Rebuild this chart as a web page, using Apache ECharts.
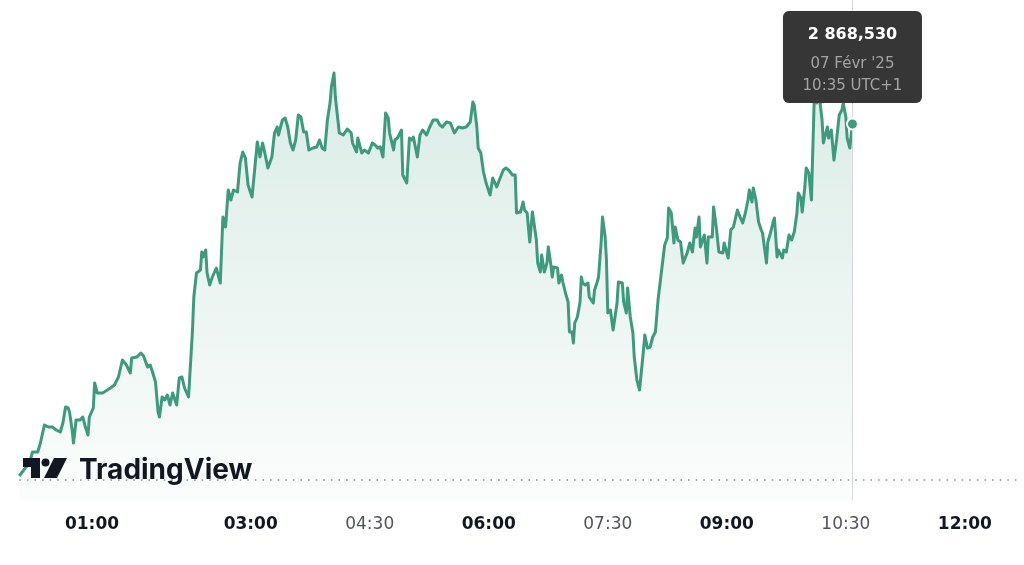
<!DOCTYPE html>
<html><head><meta charset="utf-8">
<script src="https://cdn.jsdelivr.net/npm/echarts@6/dist/echarts.min.js"></script>
<style>html,body{margin:0;padding:0;background:#fff}#c{width:1024px;height:565px}</style>
</head><body><div id="c"></div>
<script>
// Minutes since midnight (UTC+1), 07 Feb 2025
const minutes = [5,13,15,19,21,24,27,30,31,33,36,38,40,42,43,45,46,48,49,51,53,55,57,58,61,62,64,68,74,77,80,83,86,89,90,94,97,99,102,104,106,108,110,111,113,115,117,119,121,124,126,128,130,133,134,136,137,139,142,143,144,146,147,149,151,154,157,159,161,163,165,167,170,172,174,176,178,181,185,187,189,191,193,196,198,200,201,204,206,208,210,212,214,216,218,220,222,224,227,230,232,234,236,238,240,241,243,244,247,250,253,256,257,260,261,264,266,269,272,274,276,278,280,282,284,285,288,289,291,294,295,298,300,302,303,306,308,310,313,315,318,321,323,325,328,331,334,337,340,343,346,348,349,351,352,354,356,358,361,363,366,368,371,373,375,378,380,381,384,386,387,389,391,393,394,396,397,399,400,402,404,405,407,408,409,412,413,415,416,418,420,421,423,424,425,427,429,430,431,433,435,436,439,440,442,443,445,446,448,449,450,452,454,457,458,461,462,464,465,467,469,470,472,474,477,478,480,482,484,486,488,490,491,493,495,496,498,500,501,503,505,507,510,512,514,516,517,519,520,523,525,526,529,530,532,534,537,538,541,543,545,548,550,552,554,556,557,559,560,562,564,566,567,570,571,573,575,576,578,579,582,583,585,587,589,591,593,594,596,597,599,600,602,604,605,606,607,608,610,612,613,616,617,619,621,623,625,627,628,630,631,633,635];
const prices = [2854.45,2855.01,2855.41,2855.41,2855.77,2856.49,2856.41,2856.41,2856.49,2856.29,2856.21,2856.57,2857.21,2857.17,2857.01,2856.29,2855.77,2856.69,2856.77,2856.69,2856.81,2856.41,2856.09,2856.81,2857.17,2858.17,2857.77,2857.77,2857.97,2858.09,2858.41,2859.09,2858.89,2858.57,2859.17,2859.21,2859.37,2859.25,2858.81,2858.89,2858.57,2858.21,2857.01,2856.81,2857.61,2857.49,2857.69,2857.29,2857.77,2857.29,2858.37,2858.41,2857.97,2857.61,2857.61,2860.29,2861.61,2862.57,2862.69,2863.41,2863.21,2863.49,2862.57,2862.09,2862.41,2862.77,2862.17,2864.81,2864.41,2865.89,2865.49,2865.89,2865.81,2866.97,2867.41,2867.17,2866.09,2865.61,2867.81,2867.21,2867.77,2867.29,2866.77,2867.21,2868.17,2868.41,2868.09,2868.69,2868.77,2868.41,2867.77,2867.49,2867.89,2868.89,2868.81,2868.21,2868.21,2867.49,2867.57,2867.61,2867.89,2867.57,2867.49,2868.69,2869.37,2870.01,2870.57,2869.61,2868.17,2868.09,2868.33,2868.17,2867.77,2867.41,2867.97,2867.37,2867.49,2867.37,2867.77,2867.69,2867.57,2867.61,2867.21,2868.97,2868.77,2868.17,2867.49,2867.89,2867.97,2868.29,2866.49,2866.17,2867.97,2867.89,2868.01,2867.21,2868.09,2868.29,2868.09,2868.37,2868.69,2868.69,2868.49,2868.41,2868.61,2868.57,2868.17,2868.41,2868.37,2868.41,2868.61,2869.41,2869.29,2868.41,2867.57,2867.37,2866.61,2866.17,2865.69,2866.37,2866.01,2866.29,2866.69,2866.77,2866.69,2866.49,2866.49,2864.97,2865.01,2865.41,2865.09,2864.97,2863.81,2865.01,2864.97,2863.89,2862.97,2862.61,2863.29,2862.61,2862.97,2863.61,2862.89,2862.41,2862.81,2862.77,2862.17,2862.49,2862.21,2861.77,2861.41,2860.21,2860.21,2859.77,2860.57,2860.81,2861.41,2862.41,2862.17,2862.09,2862.17,2861.61,2861.37,2861.89,2862.21,2862.41,2863.81,2864.81,2864.01,2863.09,2860.97,2861.09,2860.29,2861.37,2862.21,2862.17,2861.41,2860.97,2861.97,2860.81,2860.17,2859.21,2858.29,2857.89,2859.49,2860.09,2859.57,2859.61,2860.01,2860.21,2861.49,2862.37,2862.29,2863.69,2863.97,2865.17,2864.97,2863.77,2864.41,2863.89,2863.81,2862.97,2863.37,2863.77,2863.41,2864.37,2864.01,2864.81,2863.61,2864.09,2862.97,2864.01,2864.01,2865.21,2864.41,2863.41,2863.37,2863.77,2863.17,2864.29,2864.41,2865.09,2864.81,2864.57,2864.97,2865.49,2865.89,2865.41,2865.97,2865.49,2864.61,2864.29,2864.17,2862.97,2863.81,2864.17,2864.61,2864.77,2863.21,2863.49,2863.17,2863.49,2863.41,2864.09,2863.89,2864.21,2864.97,2865.77,2865.57,2865.01,2866.01,2866.77,2866.57,2865.49,2867.49,2869.37,2869.65,2869.37,2869.61,2868.69,2867.77,2868.41,2867.97,2868.29,2867.09,2867.89,2868.89,2869.09,2869.37,2868.81,2867.97,2867.57,2868.53];
const tickMinutes = [60,180,270,360,450,540,630,720];
const majorLabels = ['01:00','03:00','06:00','09:00','12:00'];
const referencePrice = 2854.29;
const dateLabel = "07 Févr '25";
const zoneLabel = 'UTC+1';

const GREEN = '#3d9a7d';
const n = Math.min(minutes.length, prices.length);
const lineData = [];
for (let i = 0; i < n; i++) lineData.push([minutes[i], prices[i]]);
const last = lineData[n - 1];

function hhmm(m) {
  const h = Math.floor(m / 60), mm = Math.round(m % 60);
  return String(h).padStart(2, '0') + ':' + String(mm).padStart(2, '0');
}
function frNum(v) {
  const s = v.toFixed(3).split('.');
  return s[0].replace(/\B(?=(\d{3})+(?!\d))/g, ' ') + ',' + s[1];
}

const chart = echarts.init(document.getElementById('c'), null, {renderer: 'canvas'});
chart.setOption({
  animation: false,
  backgroundColor: '#ffffff',
  grid: {left: 12.64, right: 0, top: 0, bottom: 65, containLabel: false, outerBoundsMode: 'none'},
  xAxis: {
    type: 'value', min: 0, max: 764.7,
    axisLine: {show: false}, axisTick: {show: false}, splitLine: {show: false},
    axisLabel: {
      customValues: tickMinutes,
      margin: 16,
      formatter: function (v) {
        const s = hhmm(v);
        return majorLabels.indexOf(s) >= 0 ? '{b|' + s + '}' : '{l|' + s + '}';
      },
      rich: {
        b: {fontFamily: '"DejaVu Sans", sans-serif', fontWeight: 'bold', fontSize: 17, color: '#131722'},
        l: {fontFamily: '"DejaVu Sans", sans-serif', fontWeight: 'normal', fontSize: 17, color: '#50535e'}
      }
    }
  },
  yAxis: {type: 'value', show: false, min: 2853.49, max: 2873.49, splitLine: {show: false}},
  series: [{
    type: 'line',
    data: lineData,
    showSymbol: false,
    symbol: 'none',
    smooth: false,
    lineStyle: {color: GREEN, width: 3, join: 'round'},
    areaStyle: {
      color: new echarts.graphic.LinearGradient(0, 0, 0, 1, [
        {offset: 0, color: 'rgba(61,154,125,0.27)'},
        {offset: 1, color: 'rgba(61,154,125,0.03)'}
      ])
    },
    markLine: {
      silent: true, symbol: 'none', label: {show: false},
      data: [
        [{coord: [minutes[0], referencePrice], lineStyle: {color: '#8e9198', type: [1.6, 6], width: 1.6}},
         {coord: [763, referencePrice]}],
        {xAxis: last[0], lineStyle: {color: '#d6d8dc', type: 'solid', width: 1}}
      ]
    },
    z: 2
  }, {
    type: 'scatter',
    data: [last],
    symbol: 'circle',
    symbolSize: 11,
    itemStyle: {color: GREEN, borderColor: '#ffffff', borderWidth: 2, opacity: 1},
    z: 5
  }]
});

const px = chart.convertToPixel({seriesIndex: 0}, last);
const boxW = 139, boxH = 92;
const bx = px[0] - boxW / 2, by = 11;
chart.setOption({
  graphic: [
    {type: 'group', z: 100, children: [
      {type: 'rect', shape: {x: bx, y: by, width: boxW, height: boxH, r: 6}, style: {fill: '#363636'}, z: 100},
      {type: 'text', x: bx + boxW / 2, y: by + 24, style: {text: frNum(last[1]), fill: '#ffffff', font: 'bold 16px "DejaVu Sans", sans-serif', textAlign: 'center', textVerticalAlign: 'middle'}, z: 101},
      {type: 'text', x: bx + boxW / 2, y: by + 53, style: {text: dateLabel, fill: '#a3a3a3', font: '15px "DejaVu Sans", sans-serif', textAlign: 'center', textVerticalAlign: 'middle'}, z: 101},
      {type: 'text', x: bx + boxW / 2, y: by + 75, style: {text: hhmm(last[0]) + ' ' + zoneLabel, fill: '#a3a3a3', font: '15px "DejaVu Sans", sans-serif', textAlign: 'center', textVerticalAlign: 'middle'}, z: 101}
    ]},
    {type: 'group', z: 100, children: [
      {type: 'polygon', shape: {points: [[23, 458], [40, 458], [40, 478], [31, 478], [31, 467], [23, 467]]}, style: {fill: '#131722'}, z: 100},
      {type: 'circle', shape: {cx: 45.5, cy: 462.5, r: 4}, style: {fill: '#131722'}, z: 100},
      {type: 'polygon', shape: {points: [[54, 458], [67, 458], [57, 478], [44, 478]]}, style: {fill: '#131722'}, z: 100},
      {type: 'text', x: 79, y: 457, style: {text: 'TradingView', fill: '#131722', font: 'bold 28px Inter, Roboto, sans-serif', textAlign: 'left', textVerticalAlign: 'top'}, z: 100}
    ]}
  ]
});
</script>
</body></html>
